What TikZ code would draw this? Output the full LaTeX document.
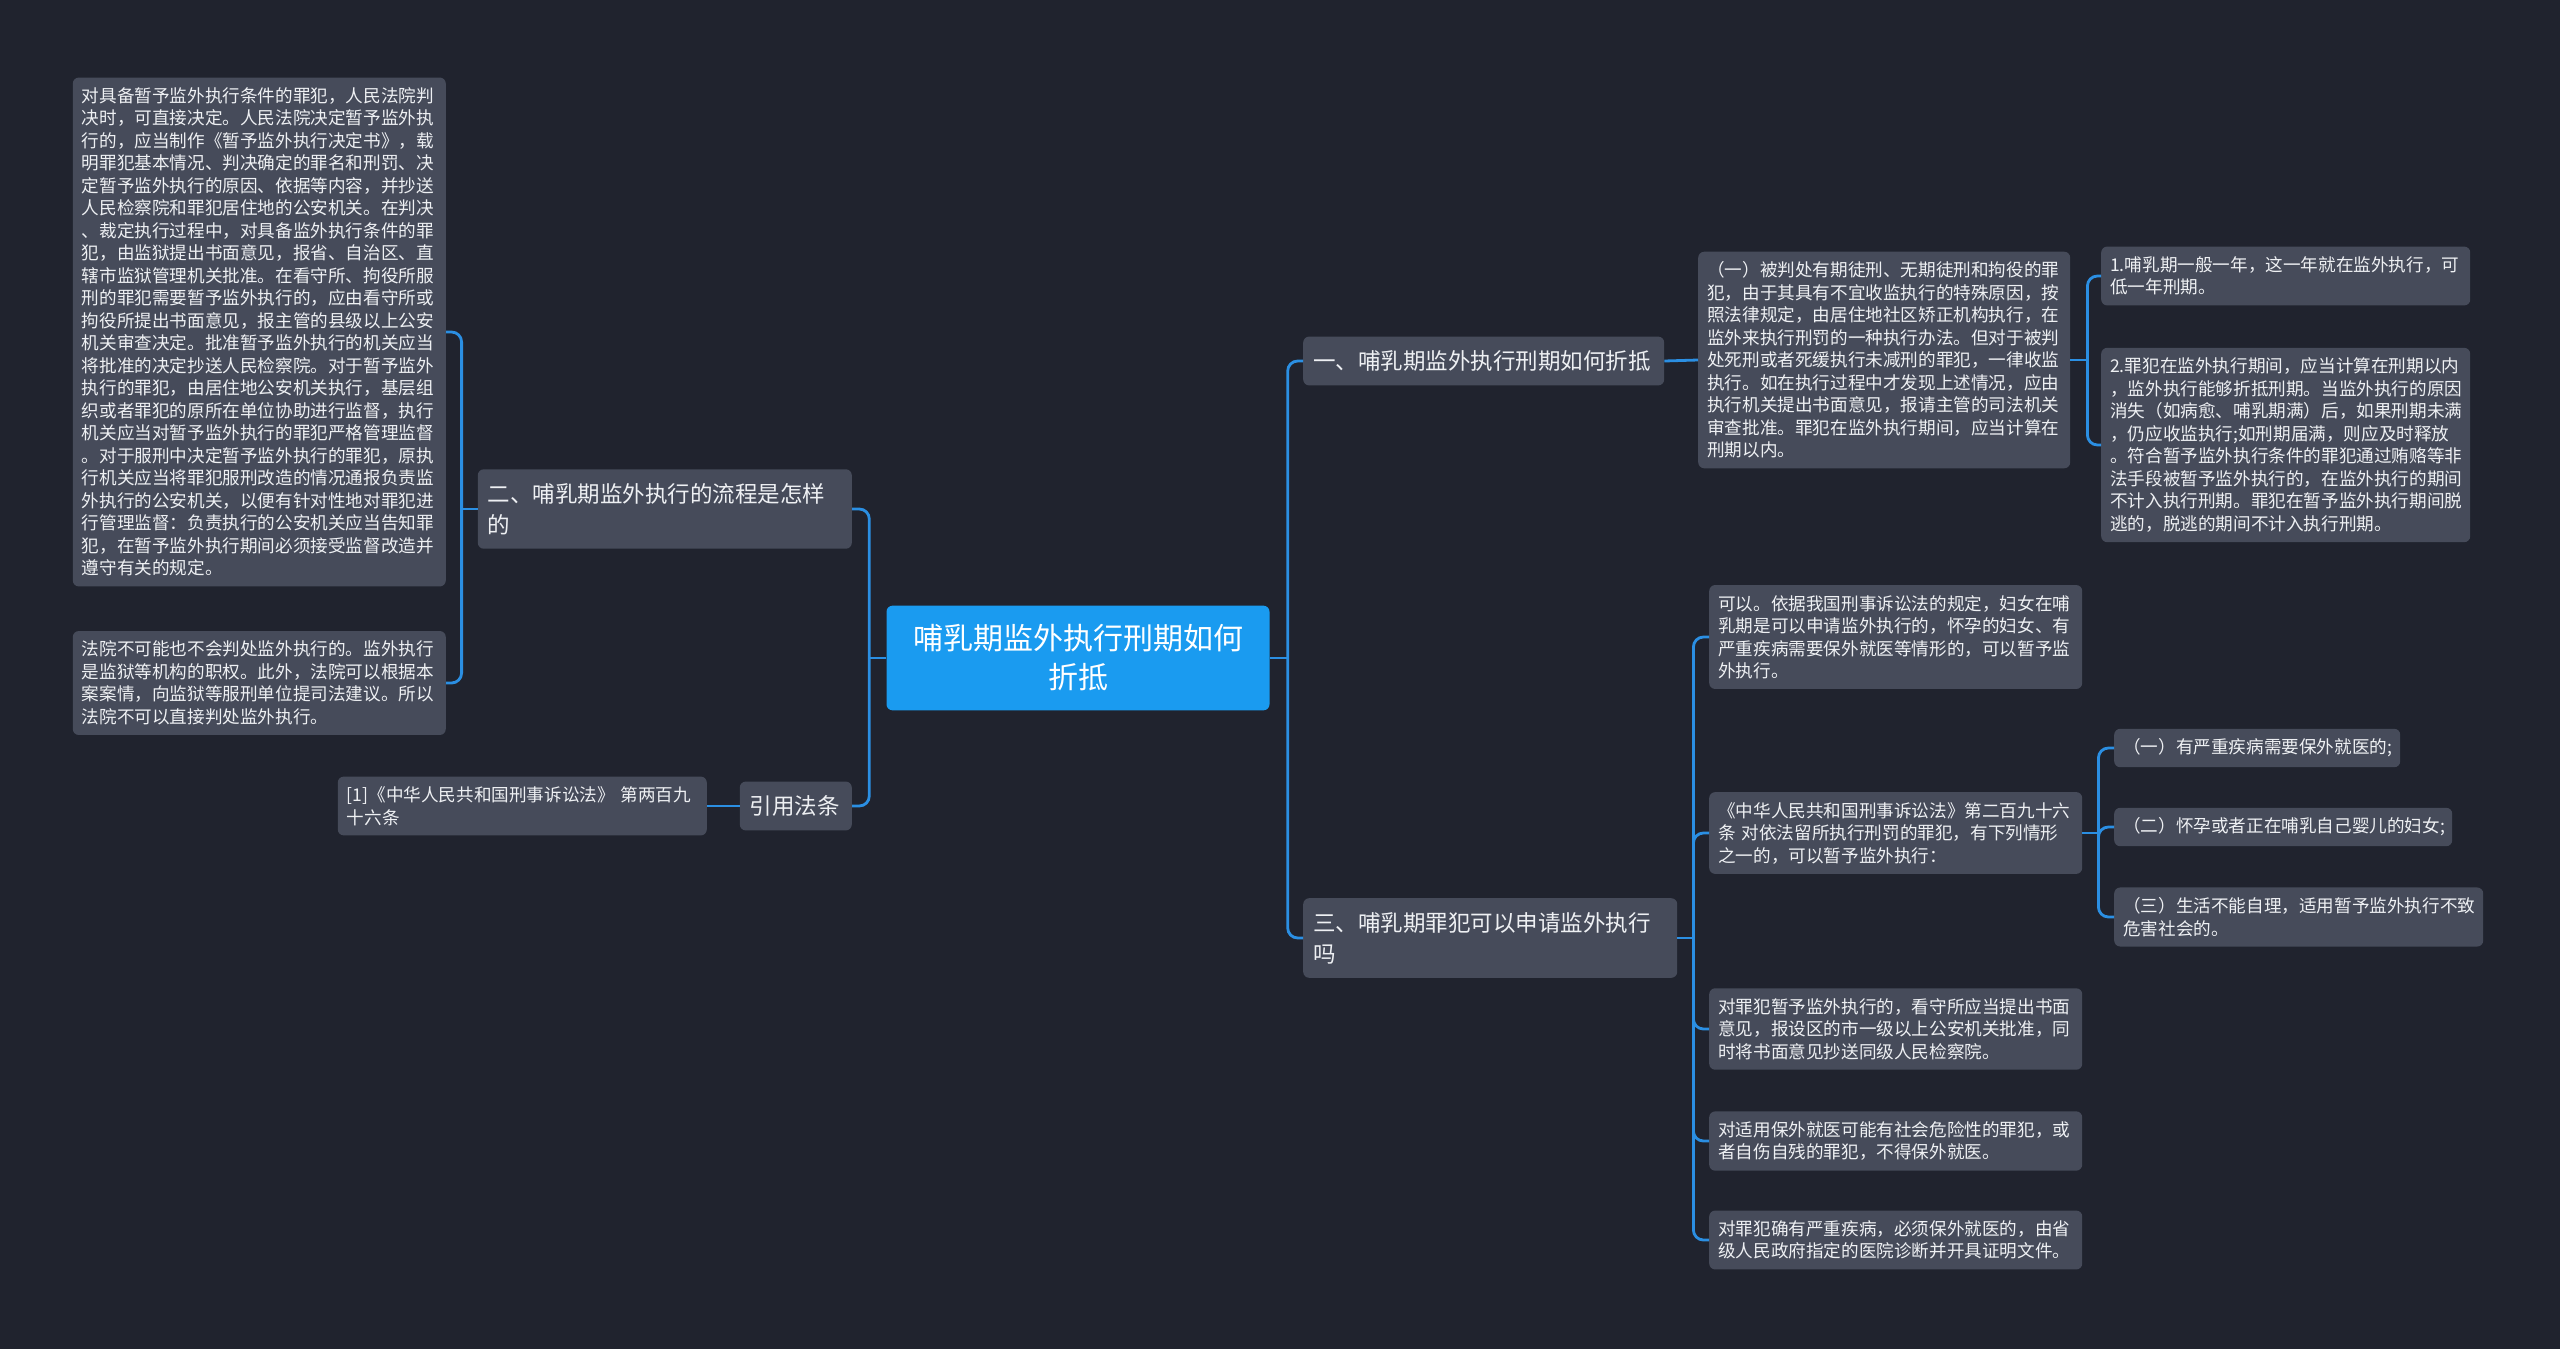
\documentclass[tikz,border=0pt]{standalone}
\usepackage{fontspec}
\setmainfont{Noto Sans CJK SC}

\definecolor{bgdark}{HTML}{20232E}
\definecolor{cardgray}{HTML}{464B5A}
\definecolor{rootblue}{HTML}{1A9BF0}
\definecolor{linkblue}{HTML}{2B8FE3}
\definecolor{inkwhite}{HTML}{EEF0F3}

\begin{document}
\begin{tikzpicture}[x=1pt,y=-1pt,
    leaf/.style={fill=cardgray, rounded corners=6pt, text=inkwhite, anchor=west,
      font=\fontsize{17.6}{22.5}\selectfont, align=left,
      inner xsep=9pt, inner ysep=10pt, text width=#1},
    leaf/.default=355pt,
    branch/.style={fill=cardgray, rounded corners=6pt, text=inkwhite, anchor=west,
      font=\fontsize{22.5}{31}\selectfont, align=left,
      inner xsep=10pt, inner ysep=14pt, text width=#1},
    root/.style={fill=rootblue, rounded corners=6pt, text=white,
      font=\fontsize{30}{39}\selectfont, align=center,
      inner xsep=12pt, inner ysep=19pt, text width=359pt},
    link/.style={draw=linkblue, line width=2.8pt, rounded corners=10pt}]

    % Background and page size
    \fill[bgdark] (0,0) rectangle (2560,1349);
    \useasboundingbox (0,0) rectangle (2560,1349);

    % Central topic
    \node[root] (main) at (1078,658) {哺乳期监外执行刑期如何\\折抵};

    % Main branches
    \node[branch=341pt] (lact) at (1303,361) {一、哺乳期监外执行刑期如何折抵};
    \node[branch=354pt] (apply) at (1303,938) {三、哺乳期罪犯可以申请监外执行\\吗};
    \node[branch=354pt, anchor=east] (flow) at (852,509) {二、哺乳期监外执行的流程是怎样\\的};
    \node[branch=92pt, anchor=east] (cite) at (852,806) {引用法条};

    % Left side leaves
    \node[leaf, anchor=east] (flowlong) at (446,332) {对具备暂予监外执行条件的罪犯，人民法院判\\决时，可直接决定。人民法院决定暂予监外执\\行的，应当制作《暂予监外执行决定书》，载\\明罪犯基本情况、判决确定的罪名和刑罚、决\\定暂予监外执行的原因、依据等内容，并抄送\\人民检察院和罪犯居住地的公安机关。在判决\\、裁定执行过程中，对具备监外执行条件的罪\\犯，由监狱提出书面意见，报省、自治区、直\\辖市监狱管理机关批准。在看守所、拘役所服\\刑的罪犯需要暂予监外执行的，应由看守所或\\拘役所提出书面意见，报主管的县级以上公安\\机关审查决定。批准暂予监外执行的机关应当\\将批准的决定抄送人民检察院。对于暂予监外\\执行的罪犯，由居住地公安机关执行，基层组\\织或者罪犯的原所在单位协助进行监督，执行\\机关应当对暂予监外执行的罪犯严格管理监督\\。对于服刑中决定暂予监外执行的罪犯，原执\\行机关应当将罪犯服刑改造的情况通报负责监\\外执行的公安机关，以便有针对性地对罪犯进\\行管理监督：负责执行的公安机关应当告知罪\\犯，在暂予监外执行期间必须接受监督改造并\\遵守有关的规定。};
    \node[leaf, anchor=east] (flowshort) at (446,683) {法院不可能也不会判处监外执行的。监外执行\\是监狱等机构的职权。此外，法院可以根据本\\案案情，向监狱等服刑单位提司法建议。所以\\法院不可以直接判处监外执行。};
    \node[leaf=351pt, anchor=east] (law) at (707,806) {[1]《中华人民共和国刑事诉讼法》 第两百九\\十六条};

    % Right side, branch one
    \node[leaf=354pt] (offset) at (1698,360) {（一）被判处有期徒刑、无期徒刑和拘役的罪\\犯，由于其具有不宜收监执行的特殊原因，按\\照法律规定，由居住地社区矫正机构执行，在\\监外来执行刑罚的一种执行办法。但对于被判\\处死刑或者死缓执行未减刑的罪犯，一律收监\\执行。如在执行过程中才发现上述情况，应由\\执行机关提出书面意见，报请主管的司法机关\\审查批准。罪犯在监外执行期间，应当计算在\\刑期以内。};
    \node[leaf=351pt] (year) at (2101,276) {1.哺乳期一般一年，这一年就在监外执行，可\\低一年刑期。};
    \node[leaf=351pt] (count) at (2101,445) {2.罪犯在监外执行期间，应当计算在刑期以内\\，监外执行能够折抵刑期。当监外执行的原因\\消失（如病愈、哺乳期满）后，如果刑期未满\\，仍应收监执行;如刑期届满，则应及时释放\\。符合暂予监外执行条件的罪犯通过贿赂等非\\法手段被暂予监外执行的，在监外执行的期间\\不计入执行刑期。罪犯在暂予监外执行期间脱\\逃的，脱逃的期间不计入执行刑期。};

    % Right side, branch three
    \node[leaf] (yes) at (1709,637) {可以。依据我国刑事诉讼法的规定，妇女在哺\\乳期是可以申请监外执行的，怀孕的妇女、有\\严重疾病需要保外就医等情形的，可以暂予监\\外执行。};
    \node[leaf] (article) at (1709,833) {《中华人民共和国刑事诉讼法》第二百九十六\\条 对依法留所执行刑罚的罪犯，有下列情形\\之一的，可以暂予监外执行：};
    \node[leaf=268pt] (caseone) at (2114,748) {（一）有严重疾病需要保外就医的;};
    \node[leaf=320pt] (casetwo) at (2114,827) {（二）怀孕或者正在哺乳自己婴儿的妇女;};
    \node[leaf=351pt] (casethree) at (2114,917) {（三）生活不能自理，适用暂予监外执行不致\\危害社会的。};
    \node[leaf] (jail) at (1709,1029) {对罪犯暂予监外执行的，看守所应当提出书面\\意见，报设区的市一级以上公安机关批准，同\\时将书面意见抄送同级人民检察院。};
    \node[leaf] (danger) at (1709,1141) {对适用保外就医可能有社会危险性的罪犯，或\\者自伤自残的罪犯，不得保外就医。};
    \node[leaf] (illness) at (1709,1240) {对罪犯确有严重疾病，必须保外就医的，由省\\级人民政府指定的医院诊断并开具证明文件。};

    % Connectors from the central topic
    \draw[link] (main.east) -- ++(18,0);
    \draw[link] ([xshift=18pt]main.east) |- (lact.west);
    \draw[link] ([xshift=18pt]main.east) |- (apply.west);
    \draw[link] (main.west) -- ++(-17,0);
    \draw[link] ([xshift=-17pt]main.west) |- (flow.east);
    \draw[link] ([xshift=-17pt]main.west) |- (cite.east);

    % Left connectors
    \draw[link] (flow.west) -- ++(-16,0);
    \draw[link] ([xshift=-16pt]flow.west) |- (flowlong.east);
    \draw[link] ([xshift=-16pt]flow.west) |- (flowshort.east);
    \draw[link] (cite.west) -- (law.east);

    % Right connectors
    \draw[link] (lact.east) -- (offset.west);
    \draw[link] (offset.east) -- ++(17,0);
    \foreach \n in {year,count}
        \draw[link] ([xshift=17pt]offset.east) |- (\n.west);
    \draw[link] (apply.east) -- ++(16,0);
    \foreach \n in {yes,article,jail,danger,illness}
        \draw[link] ([xshift=16pt]apply.east) |- (\n.west);
    \draw[link] (article.east) -- ++(16,0);
    \foreach \n in {caseone,casetwo,casethree}
        \draw[link] ([xshift=16pt]article.east) |- (\n.west);

\end{tikzpicture}
\end{document}
